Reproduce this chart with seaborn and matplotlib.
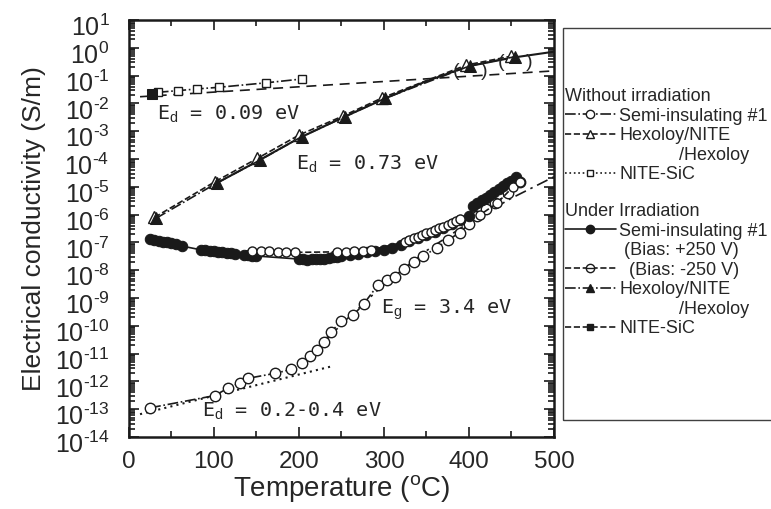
import numpy as np
import pandas as pd
import seaborn as sns
import matplotlib.pyplot as plt
from matplotlib.lines import Line2D
from matplotlib.patches import Rectangle
from matplotlib.legend_handler import HandlerTuple
from matplotlib.ticker import LogLocator, MultipleLocator, NullFormatter
from matplotlib.transforms import ScaledTranslation

# --- data (temperature in degC, conductivity as log10 S/m) ---
# NITE-SiC, without irradiation (open squares)
T_nite = [34, 58, 80, 106, 161, 204]
lg_nite = [-1.60, -1.54, -1.48, -1.42, -1.26, -1.12]
# NITE-SiC, under irradiation (filled square)
T_nite_irr = [27]
lg_nite_irr = [-1.67]
# Ed = 0.09 eV fit
T_fit_009 = [13, 500]
lg_fit_009 = [-1.76, -0.83]

# Hexoloy/NITE/Hexoloy
T_hex = [30, 101, 151, 200, 252, 298, 397, 450]
lg_hex = [-6.10, -4.82, -3.98, -3.14, -2.45, -1.80, -0.62, -0.30]
T_hex_irr = [32, 103, 154, 203, 254, 301, 401, 454]
lg_hex_irr = [-6.13, -4.87, -4.04, -3.20, -2.48, -1.82, -0.65, -0.32]
# Ed = 0.73 eV curve
T_fit_073 = [100, 150, 200, 250, 300, 350, 400, 450, 500]
lg_fit_073 = [-4.92, -4.10, -3.25, -2.53, -1.84, -1.20, -0.66, -0.36, -0.14]

# Semi-insulating #1, without irradiation (open circles)
T_semi = [25, 101, 116, 131, 140, 172, 191, 204, 213, 221, 229, 238, 250, 264,
          276, 293, 303, 313, 323, 335, 346, 362, 375, 389, 400, 409, 420, 431,
          446, 460]
lg_semi = [-12.95, -12.51, -12.25, -12.05, -11.89, -11.71, -11.57, -11.35,
           -11.09, -10.87, -10.59, -10.21, -9.83, -9.61, -9.22, -8.53, -8.35,
           -8.23, -7.97, -7.69, -7.49, -7.20, -6.92, -6.65, -6.35, -6.05,
           -5.80, -5.59, -5.23, -4.82]
# Ed = 0.2-0.4 eV and Eg = 3.4 eV fits
T_fit_low = [13, 237]
lg_fit_low = [-13.18, -11.47]
T_fit_eg = [230, 250, 300, 350, 400, 450, 500]
lg_fit_eg = [-10.59, -9.94, -8.51, -7.30, -6.29, -5.41, -4.64]

# Semi-insulating #1, under irradiation, bias +250 V (filled circles)
T_semi_pos = [25, 30, 35, 40, 45, 50, 55, 62, 85, 90, 95, 100, 105, 110, 115,
              120, 125, 135, 140, 145, 150, 200, 205, 210, 215, 220, 225, 230,
              235, 240, 245, 250, 260, 270, 280, 290, 300, 310, 320, 330, 340,
              350, 360, 370, 380, 390, 400, 405, 410, 415, 420, 425, 430, 435,
              440, 445, 450, 455]
lg_semi_pos = [-6.89, -6.92, -6.95, -6.98, -7.00, -7.03, -7.06, -7.13, -7.27,
               -7.29, -7.31, -7.32, -7.34, -7.35, -7.37, -7.38, -7.40, -7.45,
               -7.47, -7.48, -7.49, -7.60, -7.61, -7.62, -7.61, -7.60, -7.59,
               -7.58, -7.56, -7.54, -7.52, -7.50, -7.47, -7.42, -7.36, -7.31,
               -7.26, -7.20, -7.10, -6.96, -6.84, -6.72, -6.61, -6.48, -6.34,
               -6.18, -6.05, -5.68, -5.58, -5.48, -5.39, -5.29, -5.20, -5.08,
               -4.98, -4.88, -4.78, -4.66]
# bias -250 V (dotted circles)
T_semi_neg = [145, 155, 165, 175, 185, 195, 245, 255, 265, 275, 285, 325, 330,
              335, 340, 345, 350, 355, 360, 365, 370, 375, 380, 385, 390, 413,
              433, 452, 460]
lg_semi_neg = [-7.30, -7.31, -7.32, -7.34, -7.35, -7.36, -7.34, -7.33, -7.32,
               -7.30, -7.27, -6.98, -6.92, -6.86, -6.80, -6.74, -6.68, -6.63,
               -6.57, -6.50, -6.43, -6.37, -6.30, -6.23, -6.15, -6.01, -5.59,
               -5.00, -4.82]

x_ticks = [0, 100, 200, 300, 400, 500]
y_exponents = [1, 0, -1, -2, -3, -4, -5, -6, -7, -8, -9, -10, -11, -12, -13, -14]
y_tick_labels = [r"10$^{\mathregular{%s}}$" % (str(e) if e >= 0 else r"\text{-}" + str(-e))
                 for e in y_exponents]


def frame(T, lg):
    return pd.DataFrame({"T": T, "s": np.power(10.0, lg)})


sns.set_theme(style="ticks")
plt.rcParams["font.family"] = ["Liberation Sans", "DejaVu Sans"]
plt.rcParams["mathtext.fontset"] = "custom"
plt.rcParams["mathtext.rm"] = "Liberation Sans"
plt.rcParams["mathtext.it"] = "Liberation Sans:italic"
plt.rcParams["mathtext.bf"] = "Liberation Sans:bold"
plt.rcParams["axes.unicode_minus"] = False

fig = plt.figure(figsize=(7.71, 5.09), dpi=100)
ax = fig.add_axes([0.1673, 0.1415, 0.5512, 0.8192])
ax.set_yscale("log")

k = "k"
lw = 1.2

# fit lines
sns.lineplot(data=frame(T_fit_009, lg_fit_009), x="T", y="s", ax=ax, color=k,
             lw=lw, linestyle=(0, (6, 4)))
sns.lineplot(data=frame(T_fit_073, lg_fit_073), x="T", y="s", ax=ax, color=k,
             lw=lw + 0.3, linestyle="-")
sns.lineplot(data=frame(T_fit_low, lg_fit_low), x="T", y="s", ax=ax, color=k,
             lw=lw + 0.3, linestyle=(0, (1, 2)))
sns.lineplot(data=frame(T_fit_eg, lg_fit_eg), x="T", y="s", ax=ax, color=k,
             lw=lw, linestyle=(0, (7, 3, 1.5, 3)))

# measured series
sns.lineplot(data=frame(T_nite, lg_nite), x="T", y="s", ax=ax, color=k, lw=lw,
             linestyle="-.", marker="s", ms=6, mfc="white", mec=k, mew=1)
sns.lineplot(data=frame(T_nite_irr, lg_nite_irr), x="T", y="s", ax=ax, color=k,
             marker="s", ms=7, mfc=k, mec=k)
sns.lineplot(data=frame(T_hex, lg_hex), x="T", y="s", ax=ax, color=k, lw=lw,
             linestyle="--", marker="^", ms=8, mfc="white", mec=k, mew=1)
sns.lineplot(data=frame(T_hex_irr, lg_hex_irr), x="T", y="s", ax=ax, color=k,
             lw=lw, linestyle="-.", marker="^", ms=8, mfc=k, mec=k)
sns.lineplot(data=frame(T_semi, lg_semi), x="T", y="s", ax=ax, color=k, lw=lw,
             linestyle="-.", marker="o", ms=7.5, mfc="white", mec=k, mew=1)
sns.lineplot(data=frame(T_semi_pos, lg_semi_pos), x="T", y="s", ax=ax, color=k,
             lw=lw, linestyle="-", marker="o", ms=7.5, mfc=k, mec=k)
sns.lineplot(data=frame(T_semi_neg, lg_semi_neg), x="T", y="s", ax=ax, color=k,
             lw=lw, linestyle="--", marker="o", ms=6.5, mfc="white", mec=k, mew=1)
sns.scatterplot(data=frame(T_semi_neg, lg_semi_neg), x="T", y="s", ax=ax,
                color=k, s=3, linewidth=0)

# brackets around the uncertain Hexoloy points
for t, v in zip(T_hex_irr[-2:], lg_hex_irr[-2:]):
    ax.text(t, 10 ** (v - 0.2), "(    )", ha="center", va="center", fontsize=14)

# annotations
mono = {"family": ["DejaVu Sans Mono"], "fontsize": 14.5}
ax.text(33, 10 ** -2.6, r"E$_{\rm d}$ = 0.09 eV", **mono)
ax.text(197, 10 ** -4.4, r"E$_{\rm d}$ = 0.73 eV", **mono)
ax.text(296, 10 ** -9.55, r"E$_{\rm g}$ = 3.4 eV", **mono)
ax.text(86, 10 ** -13.27, r"E$_{\rm d}$ = 0.2-0.4 eV", **mono)

# axes
ax.set_xlim(0, 500)
ax.set_ylim(1e-14, 1e1)
ax.set_xticks(x_ticks)
ax.xaxis.set_minor_locator(MultipleLocator(50))
ax.set_yticks([10.0 ** e for e in y_exponents], labels=y_tick_labels)
ax.yaxis.set_minor_locator(LogLocator(base=10, subs=np.arange(2, 10), numticks=200))
ax.yaxis.set_minor_formatter(NullFormatter())
ax.tick_params(which="both", direction="in", top=True, right=True, width=1.2,
               color=k)
ax.tick_params(which="major", length=7)
ax.tick_params(which="minor", length=4)
ax.tick_params(axis="x", labelsize=17.5, pad=10)
ax.tick_params(axis="y", labelsize=18, pad=14)
shift = ScaledTranslation(0, -4 / 72, fig.dpi_scale_trans)
for lab in ax.get_yticklabels():
    lab.set_transform(lab.get_transform() + shift)
for sp in ax.spines.values():
    sp.set_linewidth(1.8)
    sp.set_color(k)
ax.set_xlabel("Temperature ($^{\\rm o}$C)", fontsize=20, labelpad=0)
ax.set_ylabel("Electrical conductivity (S/m)", fontsize=19, labelpad=6)

# legend
blank = Line2D([], [], linestyle="none")
h_semi = Line2D([], [], color=k, lw=lw, linestyle="-.", marker="o", ms=6,
                mfc="white", mec=k)
h_hex = Line2D([], [], color=k, lw=lw, linestyle="--", marker="^", ms=6,
               mfc="white", mec=k)
h_nite = Line2D([], [], color=k, lw=lw, linestyle=":", marker="s", ms=5,
                mfc="white", mec=k)
h_semi_pos = Line2D([], [], color=k, lw=lw, linestyle="-", marker="o", ms=6,
                    mfc=k, mec=k)
h_semi_neg = (Line2D([], [], color=k, lw=lw, linestyle="--", marker="o", ms=6,
                     mfc="white", mec=k),
              Line2D([], [], linestyle="none", marker="_", ms=6, mec=k))
h_hex_irr = Line2D([], [], color=k, lw=lw, linestyle="-.", marker="^", ms=6,
                   mfc=k, mec=k)
h_nite_irr = Line2D([], [], color=k, lw=lw, linestyle="--", marker="s", ms=5,
                    mfc=k, mec=k)

leg_kw = dict(loc="upper left", bbox_transform=fig.transFigure, frameon=False,
              fontsize=13, title_fontsize=13, alignment="left",
              handlelength=2.8, handletextpad=0.2, labelspacing=0.14,
              borderpad=0, borderaxespad=0,
              handler_map={tuple: HandlerTuple(ndivide=1)})
leg1 = ax.legend([h_semi, h_hex, blank, h_nite],
                 ["Semi-insulating #1", "Hexoloy/NITE", "            /Hexoloy",
                  "NITE-SiC"],
                 title="Without irradiation", bbox_to_anchor=(565 / 771, 1 - 88 / 509),
                 **leg_kw)
ax.add_artist(leg1)
ax.legend([h_semi_pos, blank, h_semi_neg, h_hex_irr, blank, h_nite_irr],
          ["Semi-insulating #1", " (Bias: +250 V)", "  (Bias: -250 V)",
           "Hexoloy/NITE", "            /Hexoloy", "NITE-SiC"],
          title="Under Irradiation", bbox_to_anchor=(565 / 771, 1 - 203 / 509),
          **leg_kw)
fig.patches.append(Rectangle((563 / 771, 1 - 420 / 509), 0.4, 392 / 509,
                             transform=fig.transFigure, fill=False,
                             edgecolor="#404040", lw=1))

fig.savefig("out.png", dpi=100)
